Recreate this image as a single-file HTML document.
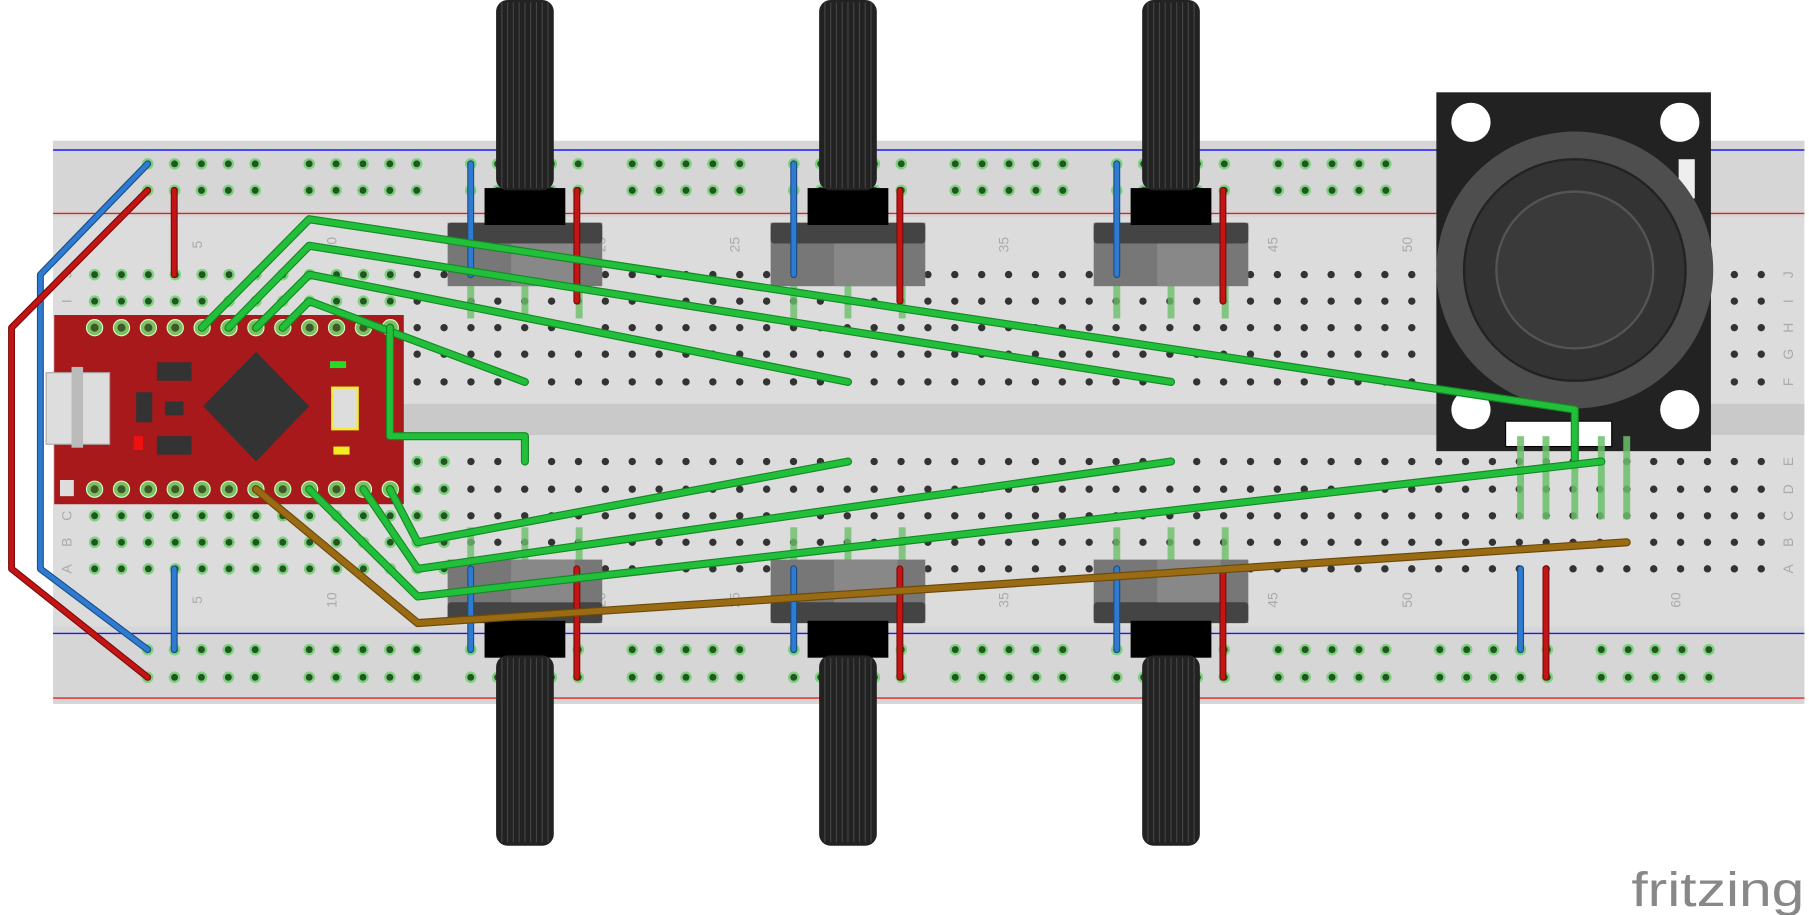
<!DOCTYPE html>
<html><head><meta charset="utf-8"><style>
html,body{margin:0;padding:0;background:#fff;}
svg{display:block;}
</style></head><body>
<svg id="s" width="1809" height="915" viewBox="0 0 1568 793" preserveAspectRatio="none" xmlns="http://www.w3.org/2000/svg">
<rect x="46" y="122" width="1518" height="488" fill="#dcdcdc"/>
<rect x="46" y="122" width="1518" height="66" fill="#d6d6d6"/>
<rect x="46" y="543" width="1518" height="67" fill="#d6d6d6"/>
<rect x="46" y="350" width="1518" height="27" fill="#c9c9c9"/>
<line x1="46" y1="130" x2="1564" y2="130" stroke="#1a1aff" stroke-width="1.2"/>
<line x1="46" y1="185" x2="1564" y2="185" stroke="#e52222" stroke-width="1.2"/>
<line x1="46" y1="549" x2="1564" y2="549" stroke="#1a1aff" stroke-width="1.2"/>
<line x1="46" y1="605" x2="1564" y2="605" stroke="#e52222" stroke-width="1.2"/>
<g id="holes"></g>
<g id="labels" font-family="Liberation Sans, sans-serif" font-size="12" fill="#aaa"></g>
<g id="pots"></g>
<g id="ard">
<rect x="47" y="273" width="303" height="164" fill="#a8191c"/>
<rect x="40" y="323" width="55" height="62" fill="#ddd" stroke="#aaa"/>
<rect x="62" y="318" width="10" height="70" fill="#bbb"/>
<polygon points="222,305 268,352 222,400 176,352" fill="#333"/>
<rect x="136" y="314" width="30" height="16" fill="#333"/>
<rect x="136" y="378" width="30" height="16" fill="#333"/>
<rect x="118" y="340" width="14" height="26" fill="#333"/>
<rect x="143" y="348" width="16" height="12" fill="#333"/>
<rect x="288" y="336" width="22" height="36" fill="#ddd" stroke="#ee3" stroke-width="2"/>
<rect x="286" y="313" width="14" height="6" fill="#2d2"/>
<rect x="289" y="387" width="14" height="7" fill="#ee2"/>
<rect x="116" y="378" width="8" height="12" fill="#e11"/>
<rect x="52" y="416" width="12" height="14" fill="#ddd"/>
</g>
<g id="joy">
<rect x="1245" y="80" width="238" height="311" fill="#222"/>
<rect x="1455" y="138" width="14" height="34" fill="#eee"/>
<rect x="1305" y="365" width="92" height="22" fill="#fff" stroke="#000"/>
<circle cx="1365" cy="234" r="120" fill="#4e4e4e"/>
<circle cx="1365" cy="234" r="96" fill="#333" stroke="#222" stroke-width="2"/>
<circle cx="1365" cy="234" r="68" fill="#3a3a3a" stroke="#555" stroke-width="2"/>
<circle cx="1275" cy="106" r="17" fill="#fff"/><circle cx="1456" cy="106" r="17" fill="#fff"/>
<circle cx="1275" cy="355" r="17" fill="#fff"/><circle cx="1456" cy="355" r="17" fill="#fff"/>
</g>
<g id="wires"></g>
<text x="1414" y="785" font-family="Liberation Sans, sans-serif" font-size="42" fill="#888" textLength="150" lengthAdjust="spacingAndGlyphs">fritzing</text>
</svg>
<script>
var NS="http://www.w3.org/2000/svg";
function mk(t,a,p){var e=document.createElementNS(NS,t);for(var k in a)e.setAttribute(k,a[k]);p.appendChild(e);return e;}
var colX=function(c){return 82+(c-1)*23.3;};
var mainRows=[238,261,284,307,331,400,424,447,470,493];
var railRows=[142,165,563,587];
var railGroups=[128,268,408,548,688,828,968,1108,1248,1388];
var greenWires=[
 [[175,284],[268,190],[1365,355],[1365,398]],
 [[198,284],[268,213],[1015,331]],
 [[222,284],[268,238],[735,331]],
 [[245,284],[268,261],[455,331]],
 [[338,284],[338,378],[455,378],[455,400]],
 [[338,424],[362,470],[735,400]],
 [[315,424],[362,493],[1015,400]],
 [[268,424],[362,517],[1388,400]]
];
var brownWires=[[[222,424],[362,540],[1410,470]]];
var blueWires=[[[128,142],[35,238],[35,493],[128,563]],[[151,493],[151,563]],[[408,142],[408,238]],[[688,142],[688,238]],[[968,142],[968,238]],[[408,493],[408,563]],[[688,493],[688,563]],[[968,493],[968,563]],[[1318,493],[1318,563]]];
var redWires=[[[128,165],[10,284],[10,493],[128,587]],[[151,165],[151,238]],[[500,165],[500,261]],[[780,165],[780,261]],[[1060,165],[1060,261]],[[500,493],[500,587]],[[780,493],[780,587]],[[1060,493],[1060,587]],[[1340,493],[1340,587]]];
var potXs=[455,735,1015];
var H=document.getElementById('holes');
for(var c=1;c<=63;c++)for(var r=0;r<mainRows.length;r++){
 var x=colX(c),y=mainRows[r];
 if(x>1240&&x<1490&&y<395)continue;
 var g=c<=12||(r>=5&&c<=14);
 var h=mk('circle',{cx:x,cy:y,r:g?5:3.2,fill:g?'#7fd07f':'#333'},H);
 
 
 if(g)mk('circle',{cx:x,cy:y,r:3,fill:'#225522'},H);
}
railGroups.forEach(function(gx){for(var i=0;i<5;i++)railRows.forEach(function(y){
 var x=gx+i*23.3; if(x>1240&&x<1490&&y<200)return;
 var h=mk('circle',{cx:x,cy:y,r:5,fill:'#7fd07f'},H);
 
 
 mk('circle',{cx:x,cy:y,r:3,fill:'#225522'},H);});});
var L=document.getElementById('labels');
[5,10,15,20,25,30,35,40,45,50,60].forEach(function(n){[212,520].forEach(function(y){
 var x=colX(n);var t=mk('text',{x:x,y:y,transform:'rotate(-90 '+x+' '+y+')','text-anchor':'middle'},L);t.textContent=n;
 
 });});
var letters=['J','I','H','G','F','E','D','C','B','A'];
letters.forEach(function(l,i){[58,1550].forEach(function(x){var y=mainRows[i];
 var t=mk('text',{x:x,y:y+4,transform:'rotate(-90 '+x+' '+y+')','text-anchor':'middle'},L);t.textContent=l;
 
 });});
var P=document.getElementById('pots');
potXs.forEach(function(cx){
 var g=mk('g',{},P);
 
 
 [[-47,0],[0,0],[47,0]].forEach(function(o){mk('rect',{x:cx+o[0]-3,y:246,width:6,height:30,fill:'#6abf6a',opacity:0.8},g);mk('rect',{x:cx+o[0]-3,y:457,width:6,height:30,fill:'#6abf6a',opacity:0.8},g);});
 mk('rect',{x:cx-67,y:193,width:134,height:55,fill:'#777'},g);
 mk('rect',{x:cx-67,y:193,width:134,height:18,fill:'#444',rx:3},g);
 mk('rect',{x:cx-12,y:211,width:55,height:37,fill:'#888'},g);
 mk('rect',{x:cx-35,y:163,width:70,height:32,fill:'#000'},g);
 mk('rect',{x:cx-25,y:0,width:50,height:165,fill:'#222',rx:10},g);
 mk('rect',{x:cx-67,y:485,width:134,height:55,fill:'#777'},g);
 mk('rect',{x:cx-67,y:522,width:134,height:18,fill:'#444',rx:3},g);
 mk('rect',{x:cx-12,y:485,width:55,height:37,fill:'#888'},g);
 mk('rect',{x:cx-35,y:538,width:70,height:32,fill:'#000'},g);
 mk('rect',{x:cx-25,y:568,width:50,height:165,fill:'#222',rx:10},g);
 for(var k=-20;k<=20;k+=5){mk('line',{x1:cx+k,y1:2,x2:cx+k,y2:163,stroke:'#444','stroke-width':1},g);mk('line',{x1:cx+k,y1:570,x2:cx+k,y2:730,stroke:'#444','stroke-width':1},g);}
});
var J=document.getElementById('joy');
[1318,1340,1365,1388,1410].forEach(function(x){mk('rect',{x:x-3,y:378,width:6,height:72,fill:'#6abf6a',opacity:0.85},J);});
var A=document.getElementById('ard');
for(var i=0;i<12;i++){[284,424].forEach(function(y){var x=colX(i+1);
 var p=mk('circle',{cx:x,cy:y,r:7,fill:'#7fbf5f',stroke:'#cfc','stroke-width':1},A);
 
 
 mk('circle',{cx:x,cy:y,r:3.5,fill:'#3a5a2a'},A);});}
var W=document.getElementById('wires');
function draw(list,col,dark,w,name){list.forEach(function(pts){
 var d=pts.map(function(p){return p.join(',');}).join(' ');
 mk('polyline',{points:d,fill:'none',stroke:dark,'stroke-width':w+2,'stroke-linejoin':'round','stroke-linecap':'round'},W);
 var e=mk('polyline',{points:d,fill:'none',stroke:col,'stroke-width':w,'stroke-linejoin':'round','stroke-linecap':'round'},W);
 
 });}
draw(blueWires,'#2f7bd0','#1a4f8a',4,'blue-wire');
draw(redWires,'#c41515','#7a0c0c',4,'red-wire');
draw(greenWires,'#22c03a','#138a24',5,'green-wire');
draw(brownWires,'#9a6b12','#6a4a0a',5,'brown-wire');
</script>
</body></html>
